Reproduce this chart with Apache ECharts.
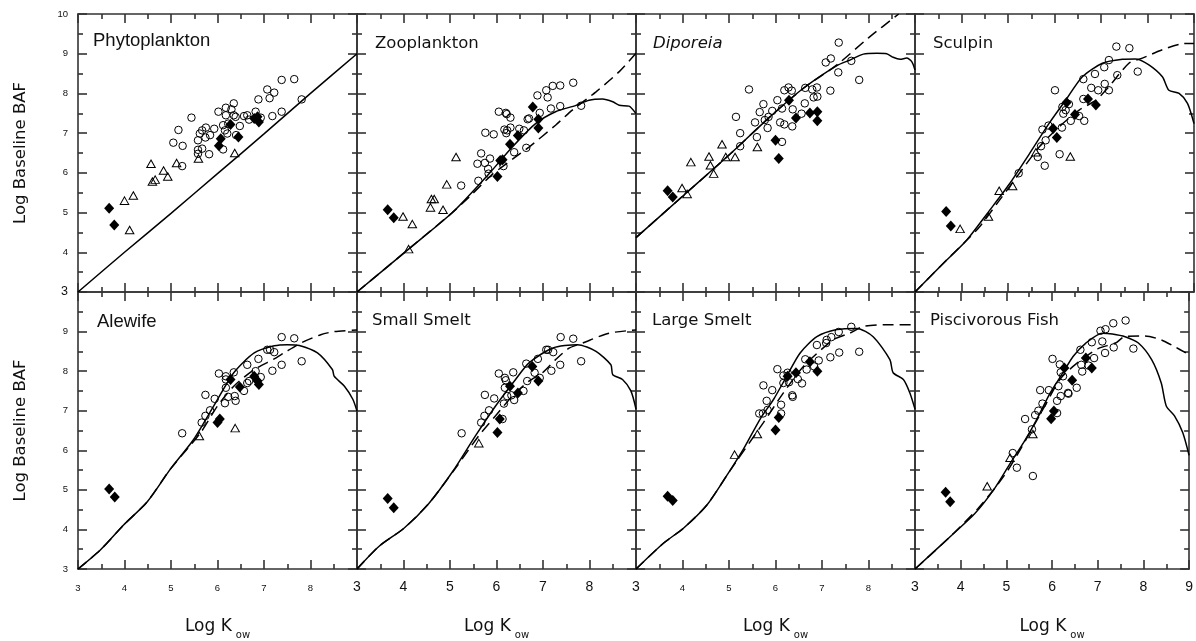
<!DOCTYPE html>
<html><head><meta charset="utf-8">
<script src="https://cdn.jsdelivr.net/npm/echarts@6.0.0/dist/echarts.min.js"></script>
<style>html,body{margin:0;padding:0;background:#fff}#chart{width:1196px;height:641px}</style>
</head><body><div id="chart"></div>
<script>
const panelTitles = ['Phytoplankton','Zooplankton','Diporeia','Sculpin','Alewife','Small Smelt','Large Smelt','Piscivorous Fish'];
const xTickLabels = ['3','4','5','6','7','8','9'];
const yTickLabels = ['3','4','5','6','7','8','9','10'];
const xTitle = 'Log K';
const xTitleSub = 'ow';
const yTitle = 'Log Baseline BAF';

// ---- Phytoplankton ----
const phytoCircles = [[5.44,7.39],[5.16,7.08],[5.05,6.76],[5.25,6.68],[5.24,6.17],[5.58,6.58],[5.58,6.48],[5.67,6.61],[5.82,6.47],[5.58,6.82],[5.62,6.99],[5.67,7.07],[5.75,7.14],[5.84,6.95],[5.74,6.89],[5.93,7.11],[6.02,7.54],[6.18,7.64],[6.18,7.45],[6.30,7.60],[6.35,7.75],[6.39,7.41],[6.12,7.20],[6.16,7.07],[6.21,6.99],[6.23,7.24],[6.48,7.18],[6.40,6.95],[6.35,7.45],[6.57,7.43],[6.64,7.45],[6.68,7.34],[6.82,7.54],[6.88,7.85],[6.93,7.39],[7.07,8.10],[7.12,7.88],[7.22,8.02],[7.18,7.43],[7.38,7.54],[7.38,8.34],[7.65,8.36],[7.81,7.85],[6.12,6.59]];
const phytoTriangles = [[4.0,5.30],[4.19,5.43],[4.11,4.56],[4.57,6.23],[4.60,5.78],[4.66,5.83],[4.84,6.06],[4.93,5.91],[5.12,6.25],[5.59,6.36],[6.37,6.50]];
const phytoDiamonds = [[3.67,5.11],[3.78,4.69],[6.03,6.68],[6.07,6.86],[6.28,7.22],[6.45,6.90],[6.79,7.37],[6.86,7.41],[6.89,7.28]];
const phytoSolid = [[3,3],[4,4.0],[5,4.98],[6,5.98],[7,6.98],[8,8.0],[9,9.0]];
const phytoDashed = [];

// ---- Zooplankton ----
const zooCircles = [[5.24,5.68],[5.59,6.23],[5.67,6.49],[5.75,6.25],[5.86,6.36],[5.82,6.10],[5.83,5.98],[5.76,7.01],[5.94,6.97],[6.05,7.54],[6.20,7.51],[6.22,7.48],[6.30,7.39],[6.17,7.09],[6.23,7.07],[6.21,7.00],[6.30,7.14],[6.49,7.11],[6.59,7.07],[6.67,7.35],[6.70,7.37],[6.93,7.51],[6.88,7.95],[7.07,8.08],[7.10,7.90],[7.21,8.19],[7.37,8.20],[7.17,7.62],[7.37,7.68],[7.65,8.27],[7.82,7.69],[6.38,6.52],[6.64,6.63],[6.15,6.17],[5.61,5.80]];
const zooTriangles = [[3.99,4.90],[4.19,4.71],[4.11,4.08],[4.58,5.13],[4.60,5.34],[4.66,5.34],[4.85,5.07],[4.93,5.71],[5.13,6.40]];
const zooDiamonds = [[3.66,5.07],[3.79,4.87],[6.02,5.91],[6.08,6.31],[6.13,6.33],[6.29,6.72],[6.46,6.94],[6.78,7.66],[6.90,7.35],[6.90,7.13]];
const zooSolid = [[3,3],[4.11,4.08],[5.05,5.0],[5.84,5.98],[6.34,6.65],[6.84,7.24],[7.27,7.54],[7.71,7.70],[7.99,7.83],[8.28,7.86],[8.50,7.79],[8.64,7.70],[8.85,7.68],[9.0,7.49]];
const zooDashed = [[3,3],[4.11,4.08],[5.05,5.0],[5.41,5.39],[5.9,5.95],[6.41,6.40],[6.70,6.65],[7.27,7.20],[7.63,7.58],[8.14,8.04],[8.64,8.55],[9.0,9.01]];

// ---- Diporeia ----
const dipCircles = [[5.43,8.10],[5.15,7.41],[5.24,7.0],[5.24,6.67],[5.56,7.27],[5.60,6.90],[5.66,7.53],[5.74,7.73],[5.77,7.33],[5.85,7.41],[5.83,7.13],[5.93,7.56],[6.04,7.83],[6.10,7.27],[6.14,7.62],[6.19,7.22],[6.19,8.08],[6.28,8.15],[6.35,8.07],[6.37,7.60],[6.36,7.17],[6.14,6.78],[6.56,7.49],[6.63,7.75],[6.64,8.14],[6.79,8.10],[6.89,8.15],[6.82,7.90],[6.90,7.92],[7.08,8.78],[7.19,8.88],[7.18,8.07],[7.36,9.28],[7.35,8.53],[7.63,8.82],[7.80,8.34]];
const dipTriangles = [[3.99,5.62],[4.18,6.27],[4.57,6.41],[4.60,6.19],[4.67,5.98],[4.85,6.72],[4.93,6.40],[5.13,6.40],[5.61,6.65],[4.10,5.47]];
const dipDiamonds = [[3.68,5.55],[3.79,5.39],[6.0,6.82],[6.07,6.36],[6.29,7.83],[6.44,7.38],[6.74,7.51],[6.90,7.54],[6.90,7.31]];
const dipSolid = [[3,4.37],[4.02,5.43],[5.03,6.48],[5.88,7.41],[6.60,8.13],[7.32,8.70],[7.60,8.84],[7.89,8.99],[8.18,9.01],[8.39,9.0],[8.53,8.91],[8.68,8.86],[8.82,8.89],[8.93,8.80],[9.0,8.59]];
const dipDashed = [[3,4.37],[4.02,5.43],[5.03,6.48],[5.88,7.41],[6.60,8.13],[7.32,8.72],[8.0,9.40],[8.65,10.0]];

// ---- Sculpin ----
const sculCircles = [[5.23,5.99],[5.64,6.40],[5.74,7.09],[5.79,6.18],[5.81,6.82],[5.71,6.67],[5.87,7.19],[6.01,8.08],[6.11,6.47],[6.16,7.14],[6.17,7.66],[6.19,7.49],[6.24,7.58],[6.31,7.73],[6.35,7.31],[6.53,7.43],[6.64,7.31],[6.62,7.86],[6.62,8.36],[6.79,8.14],[6.87,8.49],[6.94,8.08],[7.07,8.66],[7.08,8.24],[7.17,8.84],[7.17,8.08],[7.33,9.18],[7.35,8.46],[7.61,9.14],[7.79,8.55]];
const sculTriangles = [[3.97,4.59],[4.58,4.90],[4.81,5.55],[5.10,5.67],[5.60,6.52],[6.34,6.41]];
const sculDiamonds = [[3.67,5.03],[3.77,4.66],[5.97,7.12],[6.05,6.89],[6.26,7.77],[6.44,7.47],[6.72,7.86],[6.89,7.71]];
const sculSolid = [[3,3],[3.59,3.70],[4.10,4.29],[4.60,5.05],[5.03,5.72],[5.46,6.48],[5.88,7.24],[6.24,7.83],[6.60,8.42],[7.03,8.76],[7.46,8.86],[7.75,8.87],[8.03,8.72],[8.32,8.42],[8.46,8.08],[8.68,8.0],[8.86,7.75],[9.0,7.24]];
const sculDashed = [[3,3],[3.59,3.70],[4.10,4.29],[4.38,4.63],[4.81,5.30],[5.24,5.98],[5.67,6.65],[6.10,7.16],[6.53,7.58],[6.89,7.83],[7.17,8.17],[7.60,8.76],[7.89,8.89],[8.32,9.10],[8.75,9.25],[9.0,9.26]];

// ---- Alewife ----
const aleCircles = [[5.24,6.43],[5.66,6.70],[5.74,6.87],[5.84,7.01],[5.74,7.40],[5.94,7.30],[6.03,7.94],[6.18,7.87],[6.18,7.79],[6.18,7.58],[6.23,7.35],[6.16,7.19],[6.35,7.97],[6.37,7.37],[6.39,7.25],[6.57,7.50],[6.64,7.70],[6.64,8.16],[6.68,7.75],[6.82,8.0],[6.88,8.31],[6.93,7.85],[7.07,8.54],[7.13,8.54],[7.22,8.48],[7.18,8.01],[7.38,8.86],[7.38,8.16],[7.65,8.83],[7.81,8.25]];
const aleTriangles = [[5.61,6.36],[6.38,6.56]];
const aleDiamonds = [[3.67,5.02],[3.79,4.82],[6.0,6.70],[6.05,6.79],[6.28,7.79],[6.48,7.60],[6.79,7.87],[6.89,7.66],[6.86,7.75]];
const aleSolid = [[3,3],[3.48,3.48],[3.98,4.11],[4.49,4.70],[4.99,5.53],[5.49,6.28],[5.92,7.12],[6.35,7.96],[6.79,8.46],[7.22,8.64],[7.50,8.67],[7.76,8.65],[8.15,8.46],[8.47,8.04],[8.51,7.87],[8.73,7.62],[8.91,7.29],[9.0,6.99]];
const aleDashed = [[3,3],[3.48,3.48],[3.98,4.11],[4.49,4.70],[4.99,5.53],[5.64,6.45],[6.0,7.12],[6.35,7.62],[6.79,8.04],[7.22,8.31],[7.43,8.46],[7.79,8.71],[8.22,8.92],[8.51,9.0],[9.0,9.04]];

// ---- Small Smelt ----
const ssCircles = [[5.25,6.43],[5.67,6.70],[5.74,6.87],[5.84,7.01],[5.75,7.40],[5.95,7.31],[6.05,7.94],[6.18,7.83],[6.20,7.77],[6.18,7.58],[6.23,7.37],[6.16,7.18],[6.36,7.97],[6.38,7.27],[6.32,7.39],[6.58,7.50],[6.64,8.19],[6.66,7.75],[6.82,7.96],[6.89,8.31],[6.93,7.83],[7.07,8.54],[7.11,8.54],[7.22,8.48],[7.18,8.01],[7.38,8.86],[7.37,8.16],[7.65,8.82],[7.82,8.25],[6.13,6.79]];
const ssTriangles = [[5.62,6.18]];
const ssDiamonds = [[3.66,4.78],[3.79,4.55],[6.02,6.45],[6.07,6.79],[6.29,7.62],[6.46,7.45],[6.77,8.12],[6.90,7.75]];
const ssSolid = [[3,3],[3.47,3.57],[4.01,4.03],[4.54,4.65],[5.05,5.45],[5.55,6.37],[5.98,7.12],[6.41,7.79],[6.70,8.21],[7.20,8.58],[7.74,8.67],[8.14,8.50],[8.46,8.16],[8.50,7.91],[8.71,7.79],[8.89,7.50],[9.0,7.04]];
const ssDashed = [[3,3],[3.47,3.57],[4.01,4.03],[4.54,4.65],[5.12,5.55],[5.62,6.37],[5.98,6.87],[6.34,7.37],[6.70,7.75],[6.99,7.96],[7.27,8.29],[7.56,8.58],[7.85,8.71],[8.42,8.96],[9.0,9.04]];

// ---- Large Smelt ----
const lsCircles = [[5.65,6.93],[5.74,7.64],[5.81,7.25],[5.73,6.93],[5.83,7.02],[5.93,7.52],[6.04,8.05],[6.12,7.15],[6.12,6.93],[6.17,7.89],[6.17,7.70],[6.26,7.96],[6.29,7.72],[6.36,7.39],[6.37,7.35],[6.48,7.80],[6.57,7.69],[6.64,8.30],[6.67,8.04],[6.83,8.12],[6.93,8.27],[6.89,8.66],[7.10,8.79],[7.09,8.71],[7.20,8.86],[7.18,8.35],[7.37,8.47],[7.36,8.99],[7.63,9.12],[7.80,8.49]];
const lsTriangles = [[5.12,5.89],[5.61,6.41]];
const lsDiamonds = [[3.68,4.84],[3.79,4.73],[6.0,6.51],[6.07,6.83],[6.26,7.87],[6.44,7.96],[6.74,8.24],[6.90,8.0]];
const lsSolid = [[3,3],[3.59,3.65],[4.02,4.03],[4.52,4.61],[4.95,5.36],[5.31,6.03],[5.67,6.79],[5.96,7.29],[6.24,7.87],[6.53,8.46],[6.89,8.87],[7.32,9.05],[7.75,9.08],[8.10,8.87],[8.46,8.29],[8.53,7.96],[8.75,7.79],[8.89,7.45],[9.0,7.04]];
const lsDashed = [[3,3],[3.59,3.65],[4.02,4.03],[4.52,4.61],[5.03,5.50],[5.74,6.70],[6.17,7.45],[6.60,8.12],[7.24,8.79],[7.60,8.96],[7.89,9.13],[8.32,9.17],[9.0,9.17]];

// ---- Piscivorous Fish ----
const pfCircles = [[5.14,5.93],[5.23,5.56],[5.41,6.79],[5.58,5.35],[5.56,6.53],[5.63,6.89],[5.74,7.52],[5.79,7.18],[5.70,7.0],[5.93,7.52],[6.01,8.31],[6.11,7.25],[6.14,7.62],[6.11,6.94],[6.17,8.17],[6.19,7.97],[6.24,7.87],[6.19,7.37],[6.35,7.45],[6.36,7.43],[6.54,7.58],[6.62,8.54],[6.64,8.16],[6.66,7.99],[6.80,8.14],[6.87,8.73],[6.92,8.33],[7.06,9.02],[7.17,9.06],[7.10,8.75],[7.16,8.46],[7.34,9.21],[7.35,8.60],[7.61,9.28],[7.78,8.57]];
const pfTriangles = [[4.58,5.09],[5.08,5.81],[5.58,6.41]];
const pfDiamonds = [[3.67,4.94],[3.77,4.70],[5.98,6.80],[6.04,6.99],[6.27,8.08],[6.44,7.77],[6.74,8.33],[6.87,8.08]];
const pfSolid = [[3,3],[3.81,3.86],[4.31,4.40],[4.74,5.03],[5.10,5.70],[5.38,6.20],[5.67,6.79],[5.96,7.45],[6.24,7.96],[6.46,8.37],[6.74,8.71],[7.10,8.96],[7.32,8.94],[7.60,8.87],[7.89,8.71],[8.18,8.29],[8.39,7.70],[8.50,7.12],[8.68,6.87],[8.86,6.45],[9.0,5.87]];
const pfDashed = [[3,3],[3.81,3.86],[4.38,4.53],[4.74,5.03],[5.03,5.49],[5.31,6.03],[5.60,6.62],[5.88,7.20],[6.17,7.79],[6.46,8.12],[6.74,8.37],[7.03,8.58],[7.39,8.71],[7.60,8.88],[8.03,8.89],[8.39,8.79],[8.68,8.62],[8.93,8.46]];

const circleSets = [phytoCircles, zooCircles, dipCircles, sculCircles, aleCircles, ssCircles, lsCircles, pfCircles];
const triangleSets = [phytoTriangles, zooTriangles, dipTriangles, sculTriangles, aleTriangles, ssTriangles, lsTriangles, pfTriangles];
const diamondSets = [phytoDiamonds, zooDiamonds, dipDiamonds, sculDiamonds, aleDiamonds, ssDiamonds, lsDiamonds, pfDiamonds];
const solidSets = [phytoSolid, zooSolid, dipSolid, sculSolid, aleSolid, ssSolid, lsSolid, pfSolid];
const dashedSets = [phytoDashed, zooDashed, dipDashed, sculDashed, aleDashed, ssDashed, lsDashed, pfDashed];

// ---- layout / style ----
const colLeft = [78, 357, 636, 915];
const rowTop = [14, 292];
const rowH = [278, 279];
const panelW = 279;
const AX = {color: '#333', width: 1.6};
const SANS = 'Liberation Sans, Arial, sans-serif';
const WIDE = 'DejaVu Sans, sans-serif';
const titleStyle = [
  {left: 93, top: 31, fontFamily: SANS, fontSize: 18.5, fontStyle: 'normal'},
  {left: 375, top: 35, fontFamily: WIDE, fontSize: 16.5, fontStyle: 'normal'},
  {left: 653, top: 35, fontFamily: WIDE, fontSize: 16.5, fontStyle: 'italic'},
  {left: 933, top: 35, fontFamily: WIDE, fontSize: 16.5, fontStyle: 'normal'},
  {left: 97, top: 312, fontFamily: SANS, fontSize: 18.5, fontStyle: 'normal'},
  {left: 372, top: 312, fontFamily: WIDE, fontSize: 16.5, fontStyle: 'normal'},
  {left: 652, top: 312, fontFamily: WIDE, fontSize: 16.5, fontStyle: 'normal'},
  {left: 930, top: 312, fontFamily: WIDE, fontSize: 16.5, fontStyle: 'normal'}
];

const tickRich = {
  b: {fontFamily: SANS, fontSize: 14, color: '#111'},
  s: {fontFamily: SANS, fontSize: 9.5, color: '#111', padding: [3, 0, 0, 0]}
};
const yRich = {
  b: {fontFamily: SANS, fontSize: 12.5, color: '#111'},
  s: {fontFamily: SANS, fontSize: 9.5, color: '#111'}
};

const grids = [], xAxes = [], yAxes = [], series = [], titles = [];
for (let i = 0; i < 8; i++) {
  const row = Math.floor(i / 4), col = i % 4;
  grids.push({left: colLeft[col], top: rowTop[row], width: panelW, height: rowH[row]});
  const base = {
    type: 'value', gridIndex: i, interval: 1, splitLine: {show: false},
    axisLine: {show: true, onZero: false, lineStyle: AX},
    axisTick: {show: true, inside: true, length: 9, lineStyle: AX},
    minorTick: {show: true, splitNumber: 2, length: 5, lineStyle: AX},
    axisPointer: {show: false}
  };
  // bottom x axis
  xAxes.push(Object.assign({}, base, {
    min: 3, max: 9, position: 'bottom',
    axisLabel: {
      show: row === 1, margin: 11,
      formatter: function (v) {
        const k = Math.round(v);
        if (k === 9 && col < 3) return '';
        const lab = xTickLabels[k - 3];
        const big = (col === 1 || col === 3) || (col === 2 && k === 3);
        return big ? '{b|' + lab + '}' : '{s|' + lab + '}';
      },
      rich: tickRich
    },
    name: row === 1 ? '{a|' + xTitle + '}{c|' + xTitleSub + '}' : '',
    nameLocation: 'middle', nameGap: 45,
    nameTextStyle: {
      rich: {
        a: {fontFamily: WIDE, fontSize: 17, color: '#111', lineHeight: 26},
        c: {fontFamily: WIDE, fontSize: 10, color: '#111', lineHeight: 10, verticalAlign: 'bottom', padding: [0, 0, 0, 4]}
      }
    }
  }));
  // top x axis
  xAxes.push(Object.assign({}, base, {min: 3, max: 9, position: 'top', axisLabel: {show: false}}));
  // left y axis
  yAxes.push(Object.assign({}, base, {
    min: 3, max: 10, position: 'left',
    axisLabel: {
      show: col === 0, margin: 10,
      formatter: function (v) {
        const k = Math.round(v);
        if (row === 1 && k === 10) return '';
        const lab = yTickLabels[k - 3];
        return (row === 0 && k === 3) ? '{b|' + lab + '}' : '{s|' + lab + '}';
      },
      rich: yRich
    },
    name: col === 0 ? yTitle : '',
    nameLocation: 'middle', nameGap: 49,
    nameTextStyle: {fontFamily: WIDE, fontSize: 16.5, color: '#111'}
  }));
  // right y axis
  yAxes.push(Object.assign({}, base, {min: 3, max: 10, position: 'right', axisLabel: {show: false}}));

  const ts = titleStyle[i];
  titles.push({
    text: panelTitles[i], left: ts.left, top: ts.top, padding: 0,
    textStyle: {fontFamily: ts.fontFamily, fontSize: ts.fontSize, fontStyle: ts.fontStyle, fontWeight: 'normal', color: '#111'}
  });

  const xi = 2 * i, yi = 2 * i;
  series.push({
    type: 'line', xAxisIndex: xi, yAxisIndex: yi, data: solidSets[i], symbol: 'none', smooth: 0.25,
    lineStyle: {color: '#000', width: 1.5}, z: 2, silent: true
  });
  if (dashedSets[i].length) {
    series.push({
      type: 'line', xAxisIndex: xi, yAxisIndex: yi, data: dashedSets[i], symbol: 'none', smooth: 0.25,
      lineStyle: {color: '#000', width: 1.5, type: [11, 6]}, z: 2, silent: true
    });
  }
  series.push({
    type: 'scatter', xAxisIndex: xi, yAxisIndex: yi, data: circleSets[i], symbol: 'circle', symbolSize: 7.5,
    itemStyle: {color: 'rgba(255,255,255,0)', borderColor: '#000', borderWidth: 1, opacity: 1}, z: 3, silent: true
  });
  series.push({
    type: 'scatter', xAxisIndex: xi, yAxisIndex: yi, data: triangleSets[i], symbol: 'triangle', symbolSize: [8.5, 7.5],
    itemStyle: {color: 'rgba(255,255,255,0)', borderColor: '#000', borderWidth: 1, opacity: 1}, z: 3, silent: true
  });
  series.push({
    type: 'scatter', xAxisIndex: xi, yAxisIndex: yi, data: diamondSets[i], symbol: 'diamond', symbolSize: [10, 11],
    itemStyle: {color: '#000', opacity: 1}, z: 4, silent: true
  });
}

const chart = echarts.init(document.getElementById('chart'));
chart.setOption({
  animation: false,
  backgroundColor: '#fff',
  title: titles,
  grid: grids,
  xAxis: xAxes,
  yAxis: yAxes,
  series: series
});
</script>
</body></html>
